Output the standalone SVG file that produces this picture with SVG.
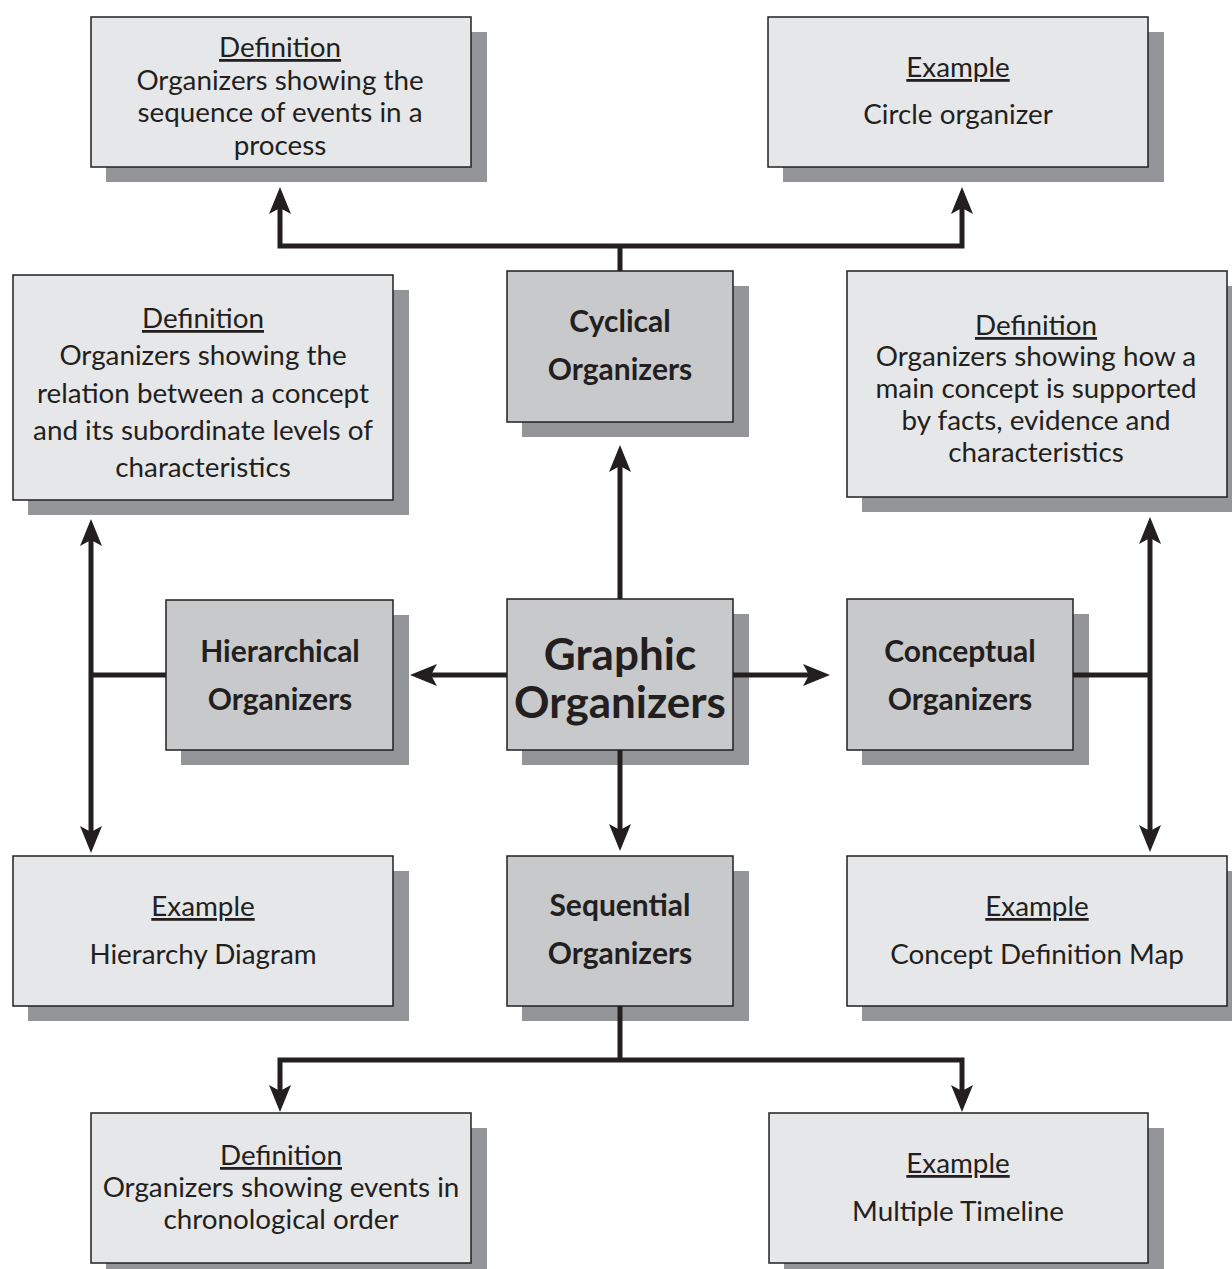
<svg xmlns="http://www.w3.org/2000/svg" width="1232" height="1269" viewBox="0 0 1232 1269">
  <defs>
    <style>
      .shadow { fill: #939598; }
      .light { fill: #e6e7e8; stroke: #231f20; stroke-width: 1.5; }
      .dark { fill: #c8c9cb; stroke: #231f20; stroke-width: 1.5; }
      text { font-family: Lato, "Open Sans", "Liberation Sans", sans-serif; fill: #231f20; text-anchor: middle; }
      .body { font-size: 27.8px; }
      .head { font-size: 27.8px; text-decoration: underline; }
      .label { font-size: 30px; font-weight: bold; }
      .title { font-size: 44px; font-weight: bold; }
      .wire { fill: none; stroke: #231f20; stroke-width: 5; stroke-linejoin: miter; }
    </style>
    <marker id="arrow" markerUnits="userSpaceOnUse" markerWidth="40" markerHeight="30" viewBox="-10 -15 40 30" refX="0" refY="0" orient="auto-start-reverse">
      <path d="M19,0 L-8,-11 L-2,0 L-8,11 Z" fill="#231f20"/>
    </marker>
  </defs>

  <!-- cyclical: definition -->
  <g id="cyclical-definition">
    <rect class="shadow" x="106" y="32" width="381" height="150"/>
    <rect class="light" x="91" y="17" width="380" height="150"/>
    <text class="head" x="280" y="57">Definition</text>
    <text class="body" x="280" y="89.5">Organizers showing the</text>
    <text class="body" x="280" y="122">sequence of events in a</text>
    <text class="body" x="280" y="154.5">process</text>
  </g>

  <!-- cyclical: example -->
  <g id="cyclical-example">
    <rect class="shadow" x="783" y="32" width="381" height="150"/>
    <rect class="light" x="768" y="17" width="380" height="150"/>
    <text class="head" x="958" y="77">Example</text>
    <text class="body" x="958" y="124">Circle organizer</text>
  </g>

  <g id="cyclical">
    <rect class="shadow" x="522" y="286" width="227" height="151"/>
    <rect class="dark" x="507" y="271" width="226" height="151"/>
    <text class="label" x="620" y="332">Cyclical</text>
    <text class="label" x="620" y="380">Organizers</text>
  </g>

  <g id="hierarchical-definition">
    <rect class="shadow" x="28" y="290" width="381" height="225"/>
    <rect class="light" x="13" y="275" width="380" height="225"/>
    <text class="head" x="203" y="328">Definition</text>
    <text class="body" x="203" y="365">Organizers showing the</text>
    <text class="body" x="203" y="403">relation between a concept</text>
    <text class="body" x="203" y="440">and its subordinate levels of</text>
    <text class="body" x="203" y="477">characteristics</text>
  </g>

  <g id="conceptual-definition">
    <rect class="shadow" x="862" y="286" width="370" height="226"/>
    <rect class="light" x="847" y="271" width="380" height="226"/>
    <text class="head" x="1036" y="335">Definition</text>
    <text class="body" x="1036" y="366">Organizers showing how a</text>
    <text class="body" x="1036" y="398">main concept is supported</text>
    <text class="body" x="1036" y="430">by facts, evidence and</text>
    <text class="body" x="1036" y="462">characteristics</text>
  </g>

  <g id="hierarchical">
    <rect class="shadow" x="181" y="615" width="228" height="150"/>
    <rect class="dark" x="166" y="600" width="227" height="150"/>
    <text class="label" x="280" y="662">Hierarchical</text>
    <text class="label" x="280" y="710">Organizers</text>
  </g>

  <g id="graphic-organizers">
    <rect class="shadow" x="522" y="614" width="227" height="151"/>
    <rect class="dark" x="507" y="599" width="226" height="151"/>
    <text class="title" x="620" y="670">Graphic</text>
    <text class="title" x="620" y="718">Organizers</text>
  </g>

  <g id="conceptual">
    <rect class="shadow" x="862" y="614" width="227" height="151"/>
    <rect class="dark" x="847" y="599" width="226" height="151"/>
    <text class="label" x="960" y="662">Conceptual</text>
    <text class="label" x="960" y="710">Organizers</text>
  </g>

  <g id="hierarchical-example">
    <rect class="shadow" x="28" y="871" width="381" height="150"/>
    <rect class="light" x="13" y="856" width="380" height="150"/>
    <text class="head" x="203" y="916">Example</text>
    <text class="body" x="203" y="964">Hierarchy Diagram</text>
  </g>

  <g id="sequential">
    <rect class="shadow" x="522" y="871" width="227" height="150"/>
    <rect class="dark" x="507" y="856" width="226" height="150"/>
    <text class="label" x="620" y="916">Sequential</text>
    <text class="label" x="620" y="964">Organizers</text>
  </g>

  <g id="conceptual-example">
    <rect class="shadow" x="862" y="871" width="370" height="150"/>
    <rect class="light" x="847" y="856" width="380" height="150"/>
    <text class="head" x="1037" y="916">Example</text>
    <text class="body" x="1037" y="964">Concept Definition Map</text>
  </g>

  <g id="sequential-definition">
    <rect class="shadow" x="106" y="1128" width="381" height="141"/>
    <rect class="light" x="91" y="1113" width="380" height="150"/>
    <text class="head" x="281" y="1165">Definition</text>
    <text class="body" x="281" y="1197">Organizers showing events in</text>
    <text class="body" x="281" y="1229">chronological order</text>
  </g>

  <g id="sequential-example">
    <rect class="shadow" x="784" y="1128" width="380" height="141"/>
    <rect class="light" x="769" y="1113" width="379" height="150"/>
    <text class="head" x="958" y="1173">Example</text>
    <text class="body" x="958" y="1221">Multiple Timeline</text>
  </g>

  <!-- connectors, drawn over the drop shadows -->
  <g id="connectors">
    <path class="wire" d="M620,271 V246"/>
    <path class="wire" d="M280,206 V246 H962 V206" marker-start="url(#arrow)" marker-end="url(#arrow)"/>
    <path class="wire" d="M620,599 V464" marker-end="url(#arrow)"/>
    <path class="wire" d="M507,675 H429" marker-end="url(#arrow)"/>
    <path class="wire" d="M733,675 H811" marker-end="url(#arrow)"/>
    <path class="wire" d="M620,750 V832" marker-end="url(#arrow)"/>
    <path class="wire" d="M620,1006 V1060"/>
    <path class="wire" d="M280,1093 V1060 H962 V1093" marker-start="url(#arrow)" marker-end="url(#arrow)"/>
    <path class="wire" d="M91,538 V834" marker-start="url(#arrow)" marker-end="url(#arrow)"/>
    <path class="wire" d="M91,675 H166"/>
    <path class="wire" d="M1150,536 V833" marker-start="url(#arrow)" marker-end="url(#arrow)"/>
    <path class="wire" d="M1073,675 H1150"/>
  </g>
</svg>
